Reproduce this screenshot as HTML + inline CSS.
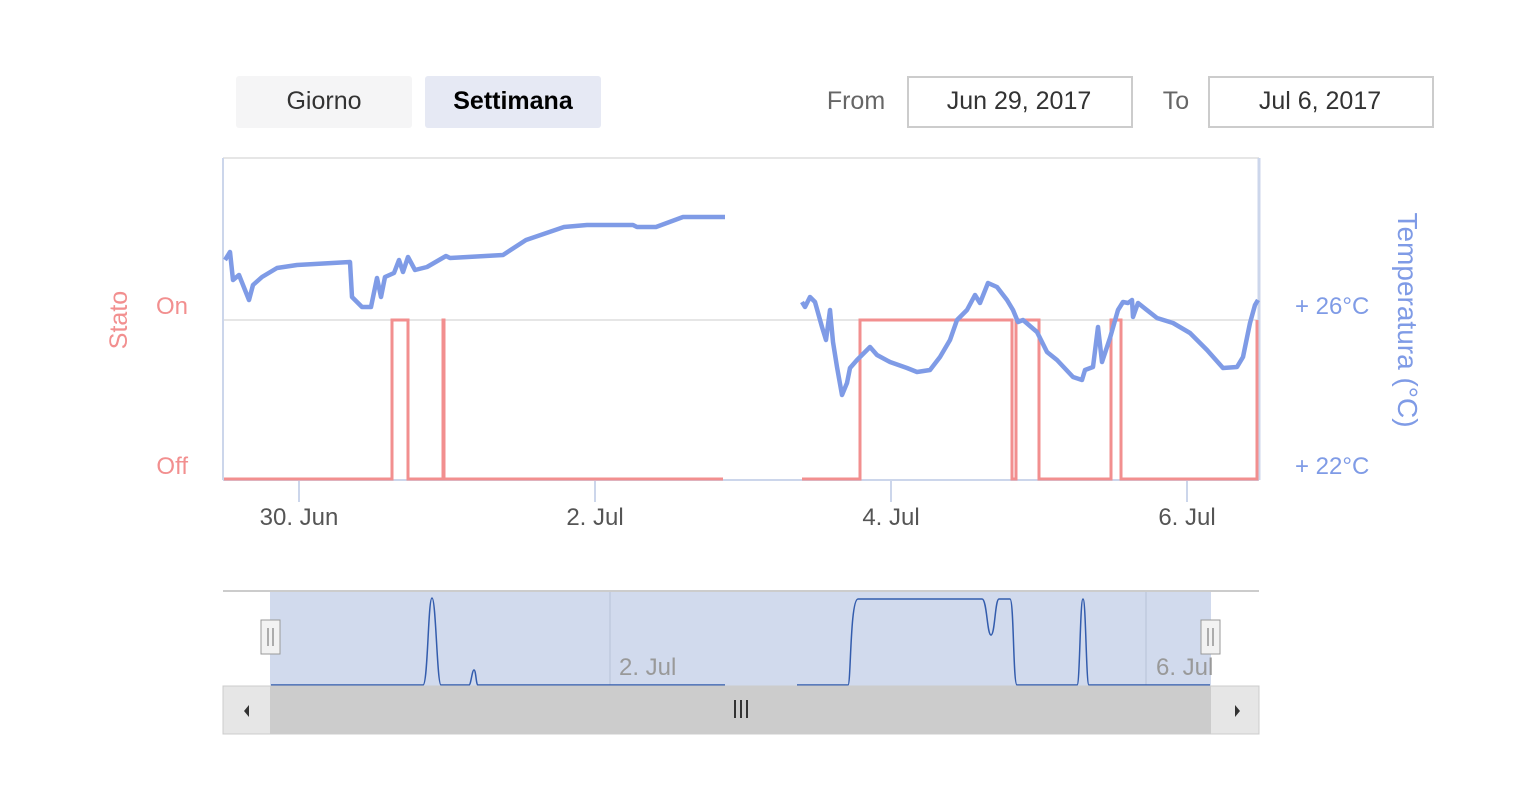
<!DOCTYPE html>
<html><head><meta charset="utf-8"><style>
body{margin:0;background:#fff;width:1527px;height:800px;overflow:hidden;font-family:"Liberation Sans",sans-serif}
</style></head><body>
<svg width="1527" height="800" xmlns="http://www.w3.org/2000/svg" font-family="Liberation Sans, sans-serif">
<rect x="236" y="76" width="176" height="52" rx="3" fill="#f5f5f6"/>
<text x="324" y="109" font-size="25" fill="#333" text-anchor="middle">Giorno</text>
<rect x="425" y="76" width="176" height="52" rx="3" fill="#e6e9f4"/>
<text x="513" y="109" font-size="25" fill="#000" font-weight="bold" text-anchor="middle">Settimana</text>
<text x="856" y="109" font-size="25" fill="#666" text-anchor="middle">From</text>
<rect x="908" y="77" width="224" height="50" fill="#fff" stroke="#ccc" stroke-width="2"/>
<text x="1019" y="109" font-size="25" fill="#333" text-anchor="middle">Jun 29, 2017</text>
<text x="1176" y="109" font-size="25" fill="#666" text-anchor="middle">To</text>
<rect x="1209" y="77" width="224" height="50" fill="#fff" stroke="#ccc" stroke-width="2"/>
<text x="1320" y="109" font-size="25" fill="#333" text-anchor="middle">Jul 6, 2017</text>

<line x1="223" y1="158" x2="1259" y2="158" stroke="#e6e6e6" stroke-width="2"/>
<line x1="223" y1="320" x2="1259" y2="320" stroke="#e6e6e6" stroke-width="2"/>
<line x1="223" y1="158" x2="223" y2="480" stroke="#ccd6eb" stroke-width="2"/>
<line x1="1259" y1="158" x2="1259" y2="480" stroke="#ccd6eb" stroke-width="3"/>
<line x1="223" y1="480" x2="1259" y2="480" stroke="#ccd6eb" stroke-width="2"/>
<g stroke="#ccd6eb" stroke-width="2"><line x1="299" y1="480" x2="299" y2="502"/><line x1="595" y1="480" x2="595" y2="502"/><line x1="891" y1="480" x2="891" y2="502"/><line x1="1187" y1="480" x2="1187" y2="502"/></g>
<g font-size="24" fill="#555" text-anchor="middle"><text x="299" y="525">30. Jun</text><text x="595" y="525">2. Jul</text><text x="891" y="525">4. Jul</text><text x="1187" y="525">6. Jul</text></g>
<g font-size="24" fill="#f28f8f" text-anchor="end"><text x="188" y="314">On</text><text x="188" y="474">Off</text></g>
<text transform="translate(127,320) rotate(-90)" font-size="25" fill="#f28f8f" text-anchor="middle">Stato</text>
<g font-size="24" fill="#7f9be6"><text x="1295" y="314">+ 26°C</text><text x="1295" y="474">+ 22°C</text></g>
<text transform="translate(1398,320) rotate(90)" font-size="28" fill="#7f9be6" text-anchor="middle">Temperatura (°C)</text>

<g fill="none" stroke="#f28f8f" stroke-width="3">
<polyline points="224,479 392,479 392,320 408,320 408,479 443,479 443,320 444,320 444,479 723,479"/>
<polyline points="802,479 860,479 860,320 1012,320 1012,479 1016,479 1016,320 1039,320 1039,479 1111,479 1111,320 1121,320 1121,479 1257,479 1257,320"/>
</g>
<g fill="none" stroke="#7f9be6" stroke-width="4.5" stroke-linejoin="round">
<polyline points="225,260 230,252 233,280 239,275 249,300 253,285 262,277 277,268 297,265 350,262 352,297 362,307 371,307 377,278 381,297 385,277 394,273 399,260 403,272 408,257 415,270 427,267 446,256 450,258 503,255 526,240 564,227 587,225 633,225 637,227 656,227 683,217 725,217"/>
<polyline points="802,302 805,307 810,297 815,302 822,327 826,340 830,310 833,342 837,367 842,395 847,383 850,368 857,360 870,347 877,355 890,362 907,368 917,372 930,370 940,357 950,340 957,320 967,310 975,295 980,303 988,283 997,287 1007,300 1013,310 1018,322 1023,320 1037,332 1047,352 1057,360 1073,377 1082,380 1085,370 1093,367 1098,327 1102,362 1110,338 1118,310 1123,302 1128,303 1132,300 1133,317 1138,303 1157,318 1173,323 1190,333 1207,350 1223,368 1237,367 1243,357 1250,323 1255,305 1258,300"/>
</g>

<line x1="223" y1="591" x2="1259" y2="591" stroke="#ccc" stroke-width="2"/>
<rect x="270" y="592" width="941" height="94" fill="#ccd6eb" opacity="0.9"/>
<g stroke="#b8c2d8" stroke-width="1"><line x1="610" y1="592" x2="610" y2="686"/><line x1="1146" y1="592" x2="1146" y2="686"/></g>
<g font-size="24" fill="#999"><text x="619" y="675">2. Jul</text><text x="1156" y="675">6. Jul</text></g>
<g fill="none" stroke="#335cad" stroke-width="1.5">
<path d="M271,685 L423,685 C428,685 428,598 432,598 C436,598 437,685 441,685 L469,685 C471,685 472,670 474,670 C476,670 476,685 478,685 L725,685"/>
<path d="M797,685 L848,685 C851,685 850,599 858,599 L982,599 C987,599 987,635 991,635 C995,635 995,599 999,599 L1010,599 C1014,599 1013,685 1017,685 L1077,685 C1080,685 1080,599 1083,599 C1086,599 1086,685 1089,685 L1210,685"/>
</g>
<rect x="261" y="620" width="19" height="34" fill="#f2f2f2" stroke="#999"/>
<line x1="268" y1="628" x2="268" y2="646" stroke="#666"/><line x1="273" y1="628" x2="273" y2="646" stroke="#666"/>
<rect x="1201" y="620" width="19" height="34" fill="#f2f2f2" stroke="#999"/>
<line x1="1208" y1="628" x2="1208" y2="646" stroke="#666"/><line x1="1213" y1="628" x2="1213" y2="646" stroke="#666"/>
<rect x="223" y="686" width="1036" height="48" fill="#e6e6e6" stroke="#ccc"/>
<rect x="270" y="686" width="941" height="48" fill="#cccccc"/>
<g stroke="#333" stroke-width="2"><line x1="735" y1="700" x2="735" y2="718"/><line x1="741" y1="700" x2="741" y2="718"/><line x1="747" y1="700" x2="747" y2="718"/></g>
<polygon points="249,705 249,717 244,711" fill="#333"/>
<polygon points="1235,705 1235,717 1240,711" fill="#333"/>
</svg>
</body></html>
